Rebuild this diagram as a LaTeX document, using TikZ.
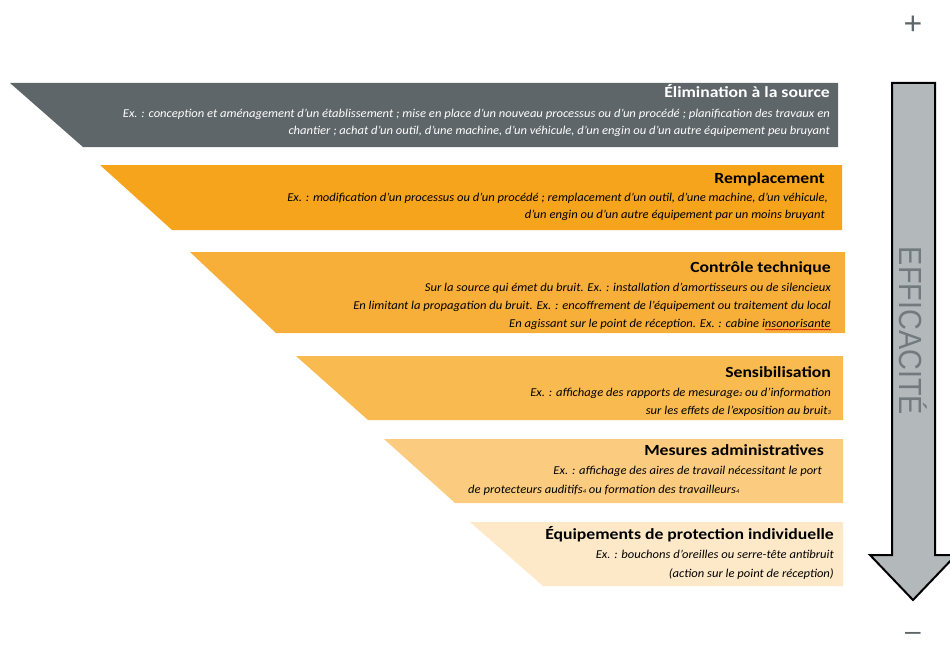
\documentclass[tikz,border=0pt]{standalone}
\usepackage{fontspec}
\setmainfont{Carlito}
\newfontfamily\ttlfont[FakeStretch=1.14]{Carlito}
\newfontfamily\bodyfont[FakeStretch=1.05]{Carlito}
\newfontfamily\arialf{Liberation Sans}
\newfontfamily\arialn[FakeStretch=0.9]{Liberation Sans}
\usetikzlibrary{decorations.pathmorphing}
\definecolor{cgray}{HTML}{5F6669}
\definecolor{cremp}{HTML}{F5A41C}
\definecolor{cctrl}{HTML}{F8AF3A}
\definecolor{csens}{HTML}{F9BA50}
\definecolor{cmes}{HTML}{FBCC80}
\definecolor{cepi}{HTML}{FDE9C8}
\definecolor{carrow}{HTML}{B3B8BB}
\definecolor{ctxtgray}{HTML}{737A7D}
\definecolor{cpm}{HTML}{5F6669}
\newcommand\sdig[1]{{\fontsize{6}{6}\selectfont #1}}
\tikzset{
  banner/.style={fill=#1, draw=none},
  ttl/.style={anchor=base east, inner sep=0pt, font=\ttlfont\fontsize{15.5}{17}\selectfont\bfseries},
  body/.style={anchor=base east, inner sep=0pt, font=\bodyfont\fontsize{12}{14}\selectfont\itshape},
  bodyl/.style={anchor=base west, inner sep=0pt, font=\bodyfont\fontsize{12}{14}\selectfont\itshape},
}
\begin{document}
\begin{tikzpicture}[x=1pt,y=-1pt]
\useasboundingbox (0,0) rectangle (950,650);
\clip (0,0) rectangle (950,650);
% banners
\fill[banner=cgray] (10,83) -- (838,83) -- (838,147) -- (83,147) -- cycle;
\fill[banner=cremp] (100,165) -- (842,165) -- (842,230) -- (172,230) -- cycle;
\fill[banner=cctrl] (190,252) -- (845,252) -- (845,333) -- (276,333) -- cycle;
\fill[banner=csens] (296,356) -- (843,356) -- (843,420) -- (368,420) -- cycle;
\fill[banner=cmes] (384,439) -- (843,439) -- (843,503) -- (455,503) -- cycle;
\fill[banner=cepi] (470,522) -- (843,522) -- (843,586) -- (543,586) -- cycle;
% texts
\node[ttl, text=white] (t1) at (830,98) {Élimination à la source};
\node[body, text=white] (b1a) at (830,118) {Ex. : conception et aménagement d’un établissement ; mise en place d’un nouveau processus ou d’un procédé ; planification des travaux en};
\node[body, text=white] (b1b) at (830,135) {chantier ; achat d’un outil, d’une machine, d’un véhicule, d’un engin ou d’un autre équipement peu bruyant};

\node[ttl] (t2) at (825,183) {Remplacement};
\node[body] (b2a) at (828,201) {Ex. : modification d’un processus ou d’un procédé ; remplacement d’un outil, d’une machine, d’un véhicule,};
\node[body] (b2b) at (825,218) {d’un engin ou d’un autre équipement par un moins bruyant};

\node[ttl] (t3) at (831,272) {Contrôle technique};
\node[body] (b3a) at (831,291) {Sur la source qui émet du bruit. Ex. : installation d’amortisseurs ou de silencieux};
\node[body] (b3b) at (831,309) {En limitant la propagation du bruit. Ex. : encoffrement de l’équipement ou traitement du local};
\node[body] (b3c) at (831,327) {En agissant sur le point de réception. Ex. : cabine insonorisante};
\draw[red!85!black, line width=0.5pt, decoration={snake, amplitude=0.6pt, segment length=2.5pt}, decorate] ([xshift=-66pt,yshift=-2.5pt]b3c.base east) -- ([yshift=-2.5pt]b3c.base east);

\node[ttl] (t4) at (831,377) {Sensibilisation};
\node[body] (b4a) at (831,396) {Ex. : affichage des rapports de mesurage\sdig{2} ou d’information};
\node[body] (b4b) at (831,414) {sur les effets de l’exposition au bruit\sdig{3}};

\node[ttl] (t5) at (824,455) {Mesures administratives};
\node[body] (b5a) at (822,474) {Ex. : affichage des aires de travail nécessitant le port};
\node[bodyl] (b5b) at (468,493) {de protecteurs auditifs\sdig{4} ou formation des travailleurs\sdig{4}};

\node[ttl] (t6) at (834,539) {Équipements de protection individuelle};
\node[body] (b6a) at (834,558) {Ex. : bouchons d’oreilles ou serre-tête antibruit};
\node[body] (b6b) at (834,577) {(action sur le point de réception)};

% arrow
\draw[fill=carrow, draw=black, line width=2pt, line join=miter]
  (892,83) -- (935,83) -- (935,555) -- (956,555) -- (913,600) -- (870,555) -- (892,555) -- cycle;
\node[rotate=-90, text=ctxtgray, font=\arialn\fontsize{32}{33}\selectfont, inner sep=0pt] (eff) at (913,331) {EFFICACITÉ};
\node[text=cpm, font=\arialf\fontsize{32}{32}\selectfont, inner sep=0pt] (plus) at (913,25) {+};
\node[text=cpm, font=\arialf\fontsize{28}{28}\selectfont, inner sep=0pt] (minus) at (913,636) {–};
\end{tikzpicture}
\end{document}
